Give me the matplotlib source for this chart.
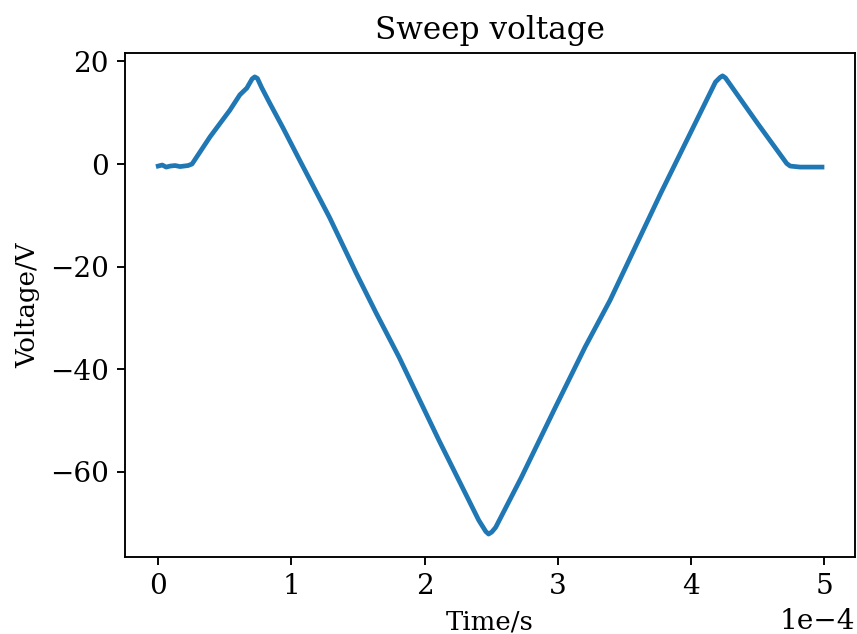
import numpy as np
import matplotlib.pyplot as plt

plt.rcParams['font.family'] = 'DejaVu Serif'

# Sweep voltage trace (time in units of 1e-4 s, voltage in V)
t_e4 = [0.00, 0.03, 0.06, 0.09, 0.127, 0.164, 0.224, 0.254, 0.389, 0.538,
        0.613, 0.665, 0.705, 0.725, 0.745, 0.777, 0.837, 0.934, 1.061, 1.286,
        1.487, 1.637, 1.809, 2.108, 2.407, 2.460, 2.481, 2.505, 2.534, 2.728,
        2.982, 3.206, 3.393, 3.774, 4.185, 4.220, 4.238, 4.260, 4.499, 4.720,
        4.746, 4.821, 4.985]
volts = [-0.4, -0.2, -0.6, -0.4, -0.3, -0.5, -0.3, 0.0, 5.3, 10.5,
         13.5, 14.8, 16.6, 17.0, 16.7, 14.9, 11.9, 7.2, 0.8, -10.4,
         -21.3, -29.1, -37.7, -53.9, -69.5, -71.7, -72.2, -71.8, -70.9, -61.1,
         -47.5, -35.7, -26.6, -5.7, 16.0, 16.9, 17.2, 16.8, 8.0, 0.1,
         -0.4, -0.6, -0.6]

time = np.array(t_e4) * 1e-4
volts = np.array(volts)

dpi = 170
fig = plt.figure(figsize=(857 / dpi, 634 / dpi), dpi=dpi)
ax = fig.add_axes([0.1459, 0.1215, 0.852, 0.795])

ax.plot(time, volts, color='#1f77b4', linewidth=2)

ax.ticklabel_format(axis='x', style='sci', scilimits=(0, 0))
ax.tick_params(labelsize=11.8)
ax.xaxis.get_offset_text().set_fontsize(11.8)

ax.set_title('Sweep voltage', fontsize=13.2)
ax.set_xlabel('Time/s', fontsize=11)
ax.set_ylabel('Voltage/V', fontsize=11)

fig.savefig('out.png', dpi=dpi)
